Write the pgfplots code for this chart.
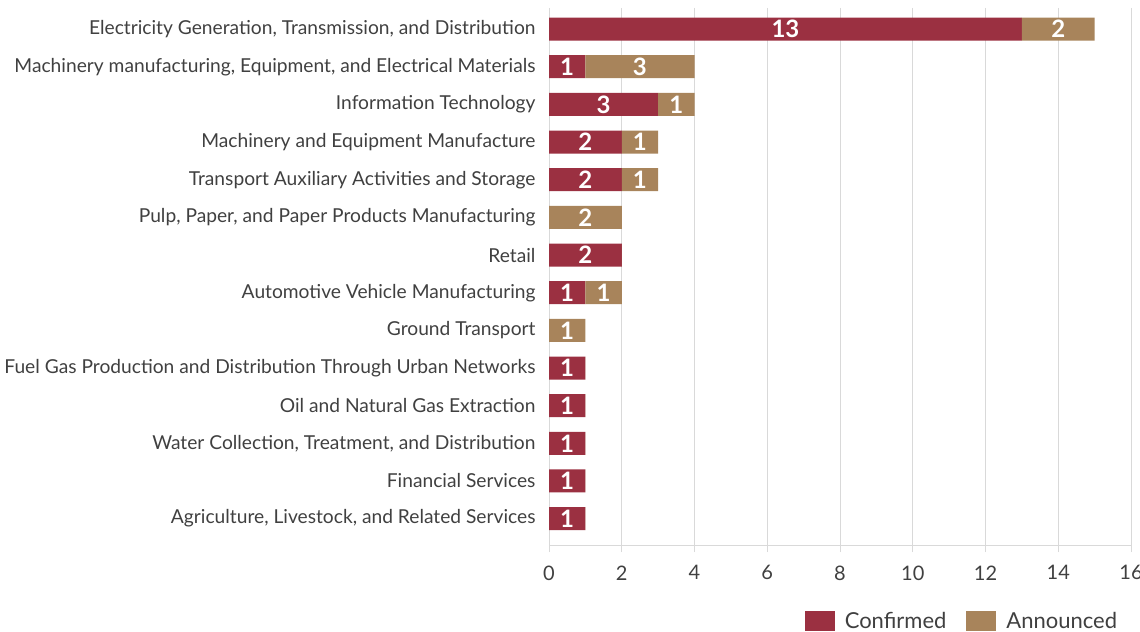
\documentclass[border=0pt]{standalone}
\usepackage{pgfplots}
\usepackage{pgfplotstable}
\pgfplotsset{compat=1.18}
\usepackage{fontspec}
\setmainfont{Lato}
\definecolor{conf}{HTML}{9B3041}
\definecolor{ann}{HTML}{A8845B}
\definecolor{txt}{HTML}{404040}
\definecolor{gridc}{HTML}{D9D9D9}

\pgfplotstableread{
y conf ann
0 13 2
1 1 3
2 3 1
3 2 1
4 2 1
5 0 2
6 2 0
7 1 1
8 0 1
9 1 0
10 1 0
11 1 0
12 1 0
13 1 0
}\datatable

\begin{document}
\begin{tikzpicture}
\useasboundingbox (0,0) rectangle (1140bp,632bp);
\begin{axis}[
  at={(549bp,87bp)}, anchor=south west,
  scale only axis, width=582bp, height=537bp,
  xbar, bar width=23bp, bar shift=0pt,
  xmin=0, xmax=16, xtick={0,2,...,16},
  ymin=-0.56, ymax=13.7, y dir=reverse,
  ytick={0,...,13},
  yticklabels={
    {Electricity Generation, Transmission, and Distribution},
    {Machinery manufacturing, Equipment, and Electrical Materials},
    {Information Technology},
    {Machinery and Equipment Manufacture},
    {Transport Auxiliary Activities and Storage},
    {Pulp, Paper, and Paper Products Manufacturing},
    {Retail\ },
    {Automotive Vehicle Manufacturing},
    {Ground Transport},
    {Fuel Gas Production and Distribution Through Urban Networks},
    {Oil and Natural Gas Extraction},
    {Water Collection, Treatment, and Distribution},
    {Financial Services},
    {Agriculture, Livestock, and Related Services}},
  axis x line*=bottom, axis y line*=left,
  axis line style={gridc, line width=1bp},
  xmajorgrids, major grid style={gridc, line width=1bp},
  tick align=outside, major tick length=7bp,
  xtick style={gridc, line width=1bp},
  ytick style={draw=none},
  /pgf/number format/assume math mode=true,
  xticklabel style={font=\fontsize{20bp}{24bp}\selectfont, text=txt, yshift=-10bp},
  yticklabel style={font=\fontsize{19.2bp}{23bp}\selectfont, text=txt, xshift=-3bp},
  legend style={at={(axis description cs:0.985,-0.1415)}, anchor=east, draw=none,
    font=\fontsize{22bp}{26bp}\selectfont, text=txt, legend columns=2,
    /tikz/every odd column/.append style={column sep=8bp},
    /tikz/every even column/.append style={column sep=18bp}},
  legend image code/.code={\fill[#1] (0bp,-10bp) rectangle (30bp,10bp);},
  every node near coord/.style={anchor=center, text=white, font=\fontsize{24bp}{28bp}\selectfont\bfseries},
]
\addplot[fill=conf, draw=none, stack plots=x] table[x=conf, y=y] {\datatable};
\addlegendentry{Confirmed}
\addplot[fill=ann, draw=none, stack plots=x] table[x=ann, y=y] {\datatable};
\addlegendentry{Announced}
\addplot[draw=none, fill=none, forget plot,
  visualization depends on={\thisrow{conf} \as \rawv},
  nodes near coords={\ifdim\rawv pt>0.5pt \pgfmathprintnumber[fixed,precision=0]{\rawv}\fi}]
  table[x expr=\thisrow{conf}/2, y=y] {\datatable};
\addplot[draw=none, fill=none, forget plot,
  visualization depends on={\thisrow{ann} \as \rawv},
  nodes near coords={\ifdim\rawv pt>0.5pt \pgfmathprintnumber[fixed,precision=0]{\rawv}\fi}]
  table[x expr=\thisrow{conf}+\thisrow{ann}/2, y=y] {\datatable};
\end{axis}
\end{tikzpicture}
\end{document}
